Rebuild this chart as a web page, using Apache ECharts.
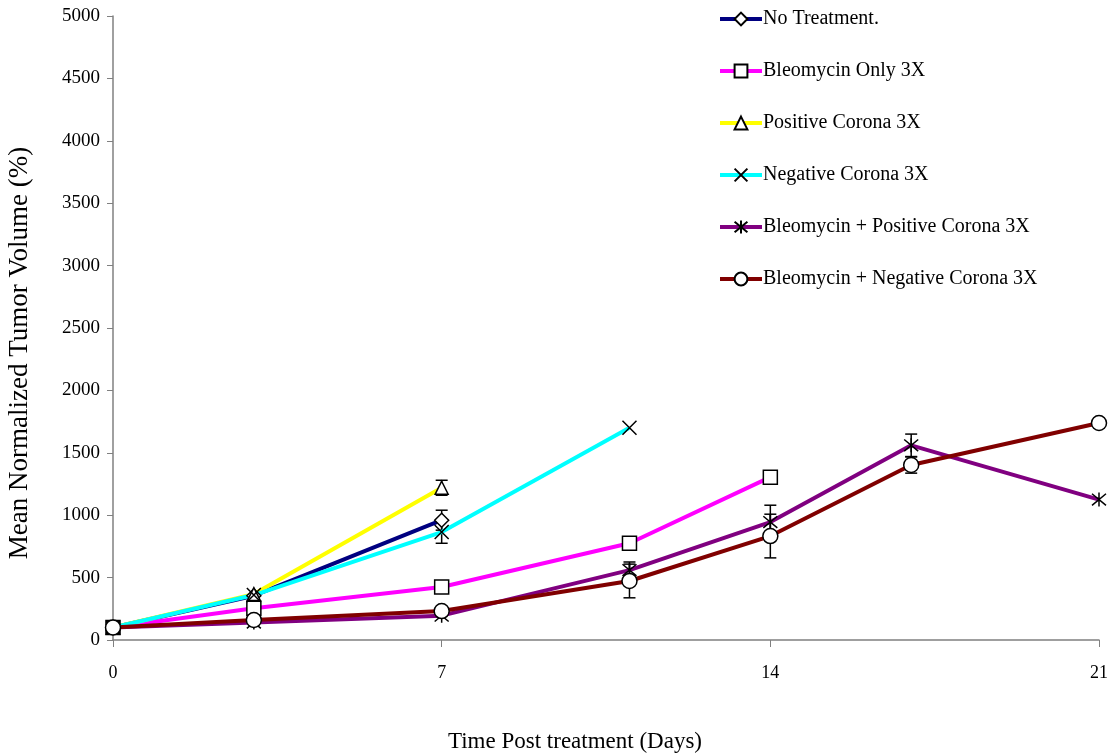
<!DOCTYPE html>
<html>
<head>
<meta charset="utf-8">
<script src="https://cdn.jsdelivr.net/npm/echarts@6/dist/echarts.min.js"></script>
<style>html,body{margin:0;padding:0;background:#fff}#c{width:1114px;height:753px}</style>
</head>
<body>
<div id="c"></div>
<script>
// Data
const seriesNames = ["No Treatment.", "Bleomycin Only 3X", "Positive Corona 3X", "Negative Corona 3X", "Bleomycin + Positive Corona 3X", "Bleomycin + Negative Corona 3X"];
const noTreatment = [[0, 100], [3, 355], [7, 960]];
const bleoOnly = [[0, 100], [3, 255], [7, 425], [11, 775], [14, 1305]];
const posCorona = [[0, 100], [3, 368], [7, 1220]];
const negCorona = [[0, 100], [3, 360], [7, 865], [11, 1700]];
const bleoPos = [[0, 100], [3, 140], [7, 195], [11, 560], [14, 945], [17, 1560], [21, 1125]];
const bleoNeg = [[0, 100], [3, 160], [7, 232], [11, 473], [14, 833], [17, 1402], [21, 1739]];
// error bars: [day, mean, sd]
const errNoTreatment = [[7, 960, 80]];
const errPosCorona = [[7, 1220, 60]];
const errNegCorona = [[7, 865, 90]];
const errBleoPos = [[11, 560, 65], [14, 945, 135], [17, 1560, 90]];
const errBleoNeg = [[11, 473, 135], [14, 833, 175], [17, 1402, 65]];
const xTicks = [0, 7, 14, 21];

const colors = ["#000080", "#FF00FF", "#FFFF00", "#00FFFF", "#800080", "#800000"];
const symX = 'path://M0,0L10,10M10,0L0,10';
const symAst = 'path://M0,0L10,10M10,0L0,10M5,-1L5,11';
const symbols = ['diamond', 'rect', 'triangle', symX, symAst, 'circle'];
const symSizes = [14, 14, 13, 14, 14, 15];
const datas = [noTreatment, bleoOnly, posCorona, negCorona, bleoPos, bleoNeg];
const errs = [errNoTreatment, errPosCorona, errNegCorona, errBleoPos, errBleoNeg];

const font = "'Liberation Serif', 'Times New Roman', serif";

const series = datas.map((d, i) => ({
  name: seriesNames[i],
  type: 'line',
  data: d,
  symbol: symbols[i],
  symbolSize: symSizes[i],
  showAllSymbol: true,
  lineStyle: {color: colors[i], width: 4},
  itemStyle: {color: '#fff', borderColor: '#000', borderWidth: 1.5},
  z: 3,
  animation: false
}));

const errData = [].concat(...errs).map(e => [e[0], e[1] - e[2], e[1] + e[2]]);
series.push({
  type: 'custom',
  name: 'err',
  data: errData,
  z: 2,
  animation: false,
  renderItem: function (params, api) {
    const x = api.value(0);
    const lo = api.coord([x, api.value(1)]);
    const hi = api.coord([x, api.value(2)]);
    const w = 6;
    const st = {stroke: '#000', lineWidth: 1.5};
    return {
      type: 'group',
      children: [
        {type: 'line', shape: {x1: lo[0], y1: lo[1], x2: hi[0], y2: hi[1]}, style: st},
        {type: 'line', shape: {x1: lo[0] - w, y1: lo[1], x2: lo[0] + w, y2: lo[1]}, style: st},
        {type: 'line', shape: {x1: hi[0] - w, y1: hi[1], x2: hi[0] + w, y2: hi[1]}, style: st}
      ]
    };
  }
});

const chart = echarts.init(document.getElementById('c'), null, {renderer: 'canvas'});
chart.setOption({
  backgroundColor: '#fff',
  animation: false,
  textStyle: {fontFamily: font},
  grid: {left: 113, right: 15, top: 16, bottom: 113, containLabel: false, outerBoundsMode: 'none'},
  legend: {
    data: seriesNames,
    orient: 'vertical',
    left: 718,
    top: 9,
    padding: 0,
    itemWidth: 42,
    itemHeight: 16,
    itemGap: 32,
    lineStyle: {width: 4},
    textStyle: {fontFamily: font, fontSize: 20, color: '#000', padding: [0, 0, 0, -4]},
    selectedMode: false
  },
  xAxis: {
    type: 'value',
    min: 0, max: 21, interval: 7,
    name: 'Time Post treatment (Days)',
    nameLocation: 'middle',
    nameGap: 90,
    nameTextStyle: {fontFamily: font, fontSize: 23, color: '#000', padding: [0, 62, 0, 0]},
    axisLine: {lineStyle: {color: '#808080', width: 1.5}},
    axisTick: {show: true, inside: false, length: 7, lineStyle: {color: '#808080'}},
    axisLabel: {fontFamily: font, fontSize: 18, color: '#000', margin: 24,
      formatter: v => xTicks.includes(v) ? String(v) : ''},
    splitLine: {show: false}
  },
  yAxis: {
    type: 'value',
    min: 0, max: 5000, interval: 500,
    name: 'Mean Normalized Tumor Volume (%)',
    nameLocation: 'middle',
    nameGap: 80,
    nameRotate: 90,
    nameTextStyle: {fontFamily: font, fontSize: 27, color: '#000', padding: [0, 50, 0, 0]},
    axisLine: {show: true, lineStyle: {color: '#808080', width: 1.5}},
    axisTick: {show: true, inside: false, length: 6, lineStyle: {color: '#808080'}},
    axisLabel: {fontFamily: font, fontSize: 19, color: '#000', margin: 13, formatter: v => String(v)},
    splitLine: {show: false}
  },
  series: series
});
</script>
</body>
</html>
